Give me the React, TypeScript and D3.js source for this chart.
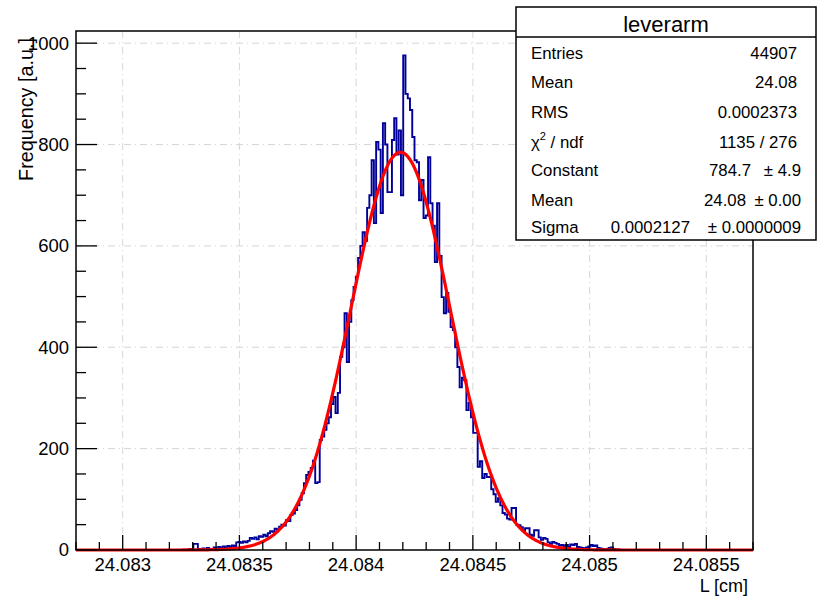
import React from "react";
import * as d3 from "d3";

// histogram "leverarm": 300 bins over [xMin, xMax], only the filled part is listed
const xMin = 24.0828;
const xMax = 24.0857;
const nBins = 300;
const firstBin = 48;
const binCounts = [
  0, 0, 2, 1, 12, 12, 2, 0, 3, 1, 4, 2, 1, 5, 3, 6, 4, 7, 5, 8, 6, 9, 8,
  15, 16, 14, 17, 15, 18, 24, 22, 25, 21, 27, 26, 30, 27, 33, 37, 36, 42, 40,
  46, 50, 48, 59, 57, 69, 72, 79, 88, 99, 112, 132, 148, 154, 162, 176, 132,
  134, 217, 224, 237, 250, 262, 288, 302, 270, 310, 381, 400, 467, 371, 450,
  493, 519, 539, 576, 600, 627, 610, 675, 700, 769, 645, 805, 790, 665, 842,
  800, 706, 706, 809, 852, 780, 828, 700, 976, 900, 891, 868, 815, 769, 765,
  690, 730, 655, 660, 775, 684, 640, 568, 684, 580, 499, 467, 507, 470, 440,
  434, 400, 361, 321, 340, 335, 276, 290, 262, 231, 231, 164, 175, 142, 150,
  144, 144, 120, 110, 95, 102, 88, 73, 70, 62, 60, 83, 83, 50, 49, 45, 38, 43,
  43, 30, 28, 39, 39, 25, 20, 24, 22, 15, 12, 16, 14, 12, 9, 10, 8, 10, 6, 11,
  10, 12, 6, 5, 4, 3, 5, 7, 10, 8, 9, 4, 3, 2, 1, 2, 4, 5, 2, 0, 1, 0,
];

// gaussian fit parameters (stat box)
const fitConstant = 784.7;
const fitMean = 24.08419;
const fitSigma = 0.0002127;

const xTicks = [24.083, 24.0835, 24.084, 24.0845, 24.085, 24.0855];
const xTickLabels = ["24.083", "24.0835", "24.084", "24.0845", "24.085", "24.0855"];
const yTicks = [0, 200, 400, 600, 800, 1000];
const yMax = 1024;

const statTitle = "leverarm";
const statLabels = ["Entries", "Mean", "RMS", "chi2", "Constant", "Mean", "Sigma"];
const statValues = ["44907", "24.08", "0.0002373", "1135 / 276", "784.7", "24.08", "0.0002127"];
const statErrors = ["", "", "", "", "\u00b1 4.9", "\u00b1 0.00", "\u00b1 0.0000009"];

export default function App() {
  const width = 822;
  const height = 597;
  const margin = { top: 31, right: 69, bottom: 47, left: 76 };
  const x0 = margin.left;
  const x1 = width - margin.right;
  const y0 = height - margin.bottom;
  const y1 = margin.top;

  const x = d3.scaleLinear().domain([xMin, xMax]).range([x0, x1]);
  const y = d3.scaleLinear().domain([0, yMax]).range([y0, y1]);

  const binWidth = (xMax - xMin) / nBins;
  const counts = d3.range(nBins).map((i) => {
    const k = i - firstBin;
    return k >= 0 && k < binCounts.length ? binCounts[k] : 0;
  });
  const histPts: [number, number][] = counts.map((c, i) => [xMin + i * binWidth, c]);
  histPts.push([xMax, counts[nBins - 1]]);
  const histLine = d3
    .line<[number, number]>()
    .x((d) => x(d[0]))
    .y((d) => y(d[1]))
    .curve(d3.curveStepAfter);

  const fitPts = d3.range(0, 401).map((i) => {
    const xv = xMin + ((xMax - xMin) * i) / 400;
    const z = (xv - fitMean) / fitSigma;
    return [xv, fitConstant * Math.exp(-0.5 * z * z)] as [number, number];
  });
  const fitLine = d3
    .line<[number, number]>()
    .x((d) => x(d[0]))
    .y((d) => y(Math.min(d[1], yMax)));

  const xMinor = x.ticks(30);
  const yMinor = d3.range(0, yMax, 50);

  const font = "'Liberation Sans', Arial, Helvetica, sans-serif";
  const grid = "#d6d6d6";

  // stats box
  const bx = 516;
  const by = 7;
  const bw = 300;
  const bh = 233;
  const rowBase = [59, 88, 118, 148, 176, 206, 233];

  return (
    <svg
      width={width}
      height={height}
      style={{ position: "absolute", left: 0, top: 0, background: "#fff" }}
      fontFamily={font}
    >
      {/* grid */}
      <g stroke={grid} strokeWidth={1} strokeDasharray="7,4,1,4" fill="none">
        {xTicks.map((t) => (
          <line key={"gx" + t} x1={x(t)} x2={x(t)} y1={y0} y2={y1} />
        ))}
        {yTicks
          .filter((t) => t > 0)
          .map((t) => (
            <line key={"gy" + t} x1={x0} x2={x1} y1={y(t)} y2={y(t)} />
          ))}
      </g>

      {/* histogram */}
      <path d={histLine(histPts) || ""} fill="none" stroke="#000099" strokeWidth={1.9} />

      {/* fit */}
      <path d={fitLine(fitPts) || ""} fill="none" stroke="#ff0000" strokeWidth={3.2} />

      {/* frame */}
      <rect x={x0} y={y1} width={x1 - x0} height={y0 - y1} fill="none" stroke="#000" strokeWidth={1.5} />

      {/* ticks */}
      <g stroke="#000" strokeWidth={1.3}>
        {xMinor.map((t, i) => {
          const major = xTicks.some((m) => Math.abs(m - t) < 1e-7);
          return (
            <line key={"xt" + i} x1={x(t)} x2={x(t)} y1={y0} y2={y0 - (major ? 15 : 8)} />
          );
        })}
        {yMinor.map((t) => {
          const major = yTicks.includes(t);
          return (
            <line key={"yt" + t} x1={x0} x2={x0 + (major ? 21 : 10)} y1={y(t)} y2={y(t)} />
          );
        })}
      </g>

      {/* tick labels */}
      <g fontSize={18.5} fill="#000">
        {xTicks.map((t, i) => (
          <text key={"xl" + t} x={x(t)} y={571} textAnchor="middle">
            {xTickLabels[i]}
          </text>
        ))}
        {yTicks.map((t) => (
          <text key={"yl" + t} x={69} y={y(t)} dy="0.35em" textAnchor="end">
            {t}
          </text>
        ))}
      </g>

      {/* axis titles */}
      <text x={748} y={592} fontSize={18} textAnchor="end">
        L [cm]
      </text>
      <text transform="translate(33,38) rotate(-90)" fontSize={19.8} textAnchor="end">
        Frequency [a.u.]
      </text>

      {/* stats box */}
      <g>
        <rect x={bx} y={by} width={bw} height={bh} fill="#fff" stroke="#000" strokeWidth={1.5} />
        <line x1={bx} x2={bx + bw} y1={37} y2={37} stroke="#000" strokeWidth={1.5} />
        <text x={bx + bw / 2} y={32} fontSize={22} textAnchor="middle">
          {statTitle}
        </text>
        {statLabels.map((l, i) => (
          <g key={"s" + i} fontSize={16.8}>
            <text x={531} y={rowBase[i]}>
              {l === "chi2" ? (
                <>
                  {"\u03c7"}
                  <tspan fontSize={11} dy={-8}>2</tspan>
                  <tspan dy={8}>{" / ndf"}</tspan>
                </>
              ) : (
                l
              )}
            </text>
            {statErrors[i] ? (
              <>
                <text x={801} y={rowBase[i]} textAnchor="end">
                  {statErrors[i]}
                </text>
                <text
                  x={801 - (i === 6 ? 111 : i === 5 ? 55 : 50)}
                  y={rowBase[i]}
                  textAnchor="end"
                >
                  {statValues[i]}
                </text>
              </>
            ) : (
              <text x={797} y={rowBase[i]} textAnchor="end">
                {statValues[i]}
              </text>
            )}
          </g>
        ))}
      </g>
    </svg>
  );
}
